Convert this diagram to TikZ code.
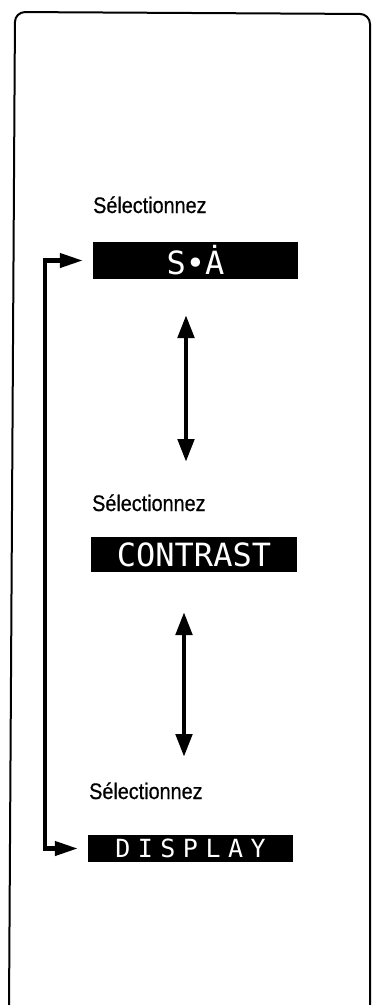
\documentclass[tikz,border=0pt]{standalone}
\usepackage{fontspec}
\setmainfont{Liberation Sans}
\newfontfamily\lblfont[FakeStretch=0.88,FakeBold=0.6]{Liberation Sans}
\newfontfamily\dispfont{DejaVu Sans Mono}
\usetikzlibrary{arrows.meta}
\begin{document}
\begin{tikzpicture}[x=1pt,y=-1pt,
  lcd/.style={fill=black, inner sep=0pt, text=white, font=\dispfont\fontsize{32}{32}\selectfont},
  lbl/.style={anchor=base west, inner sep=0pt, font=\lblfont\fontsize{22.5}{22.5}\selectfont},
  conn/.style={line width=4.8pt, {Triangle[length=23pt,width=16pt]}-{Triangle[length=23pt,width=16pt]}},
  loopconn/.style={line width=4.2pt, {Triangle[length=23pt,width=14pt]}-{Triangle[length=23pt,width=14pt]}, shorten <=10pt, shorten >=10pt},
  frame/.style={line width=2pt, rounded corners=10pt}]
\useasboundingbox (0,0) rectangle (372,1005);
% frame
\draw[frame] (9,1010) -- (15,12) -- (370,14) -- (370,1010);
% labels
\node[lbl] (l1) at (93,213) {Sélectionnez};
\node[lbl] (l2) at (92,511) {Sélectionnez};
\node[lbl] (l3) at (89,799) {Sélectionnez};
% displays
\node[lcd, minimum width=205pt, minimum height=37pt] (b1) at (195.5,260.5) {S•Ȧ};
\node[lcd, minimum width=206pt, minimum height=35pt] (b2) at (194,554.5) {CONTRAST};
\node[lcd, minimum width=205pt, minimum height=27pt,
      font=\dispfont\fontsize{25}{25}\selectfont\addfontfeature{LetterSpace=30}] (b3) at (190.5,848.5) {DISPLAY};
% vertical double arrows
\coordinate (a1t) at (186,315);
\coordinate (a1b) at (186,462);
\coordinate (a2t) at (184,612);
\coordinate (a2b) at (184,757);
\draw[conn] (a1t) -- (a1b);
\draw[conn] (a2t) -- (a2b);
% loop connector
\draw[loopconn] (b1.west) -- ++(-48,0) |- (b3.west);
\end{tikzpicture}
\end{document}
